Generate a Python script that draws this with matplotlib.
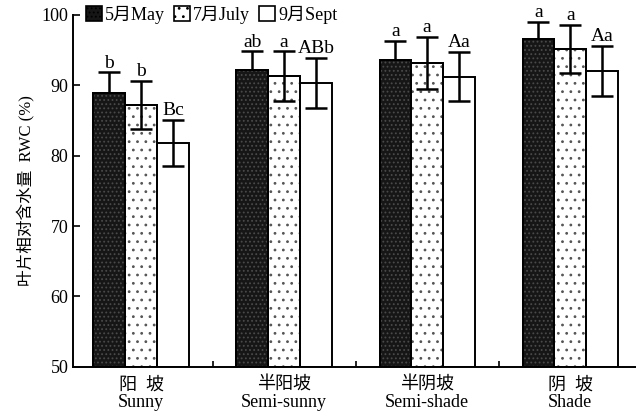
import numpy as np
import matplotlib
matplotlib.use('Agg')
import matplotlib.pyplot as plt
from matplotlib.patches import Patch

plt.rcParams['font.family'] = ['Liberation Serif', 'Noto Sans CJK SC', 'DejaVu Sans']
plt.rcParams['hatch.linewidth'] = 0.8

# data
slopes = ['阳  坡\nSunny', '半阳坡\nSemi-sunny', '半阴坡\nSemi-shade', '阴  坡\nShade']
months = ['5月May', '7月July', '9月Sept']
may = [88.9, 92.1, 93.6, 96.5]
may_err = [2.9, 2.7, 2.7, 2.5]
july = [87.2, 91.3, 93.1, 95.1]
july_err = [3.4, 3.5, 3.7, 3.4]
sept = [81.8, 90.3, 91.2, 92.0]
sept_err = [3.3, 3.6, 3.5, 3.6]
may_sig = ['b', 'ab', 'a', 'a']
july_sig = ['b', 'a', 'a', 'a']
sept_sig = ['Bc', 'ABb', 'Aa', 'Aa']

fig = plt.figure(figsize=(6.36, 4.17), dpi=100)
ax = fig.add_axes([0.115, 0.12, 0.885, 0.845])

x = np.arange(len(slopes))
w = 0.222
# dark May bars hide the lower half of their error bars, as in the print
series = [(may, may_err, may_sig, '#161616', '....', '#4a4a4a', 1.5),
          (july, july_err, july_sig, 'white', '..', '#555555', 3),
          (sept, sept_err, sept_sig, 'white', None, 'black', 3)]

handles = []
for i, (vals, errs, sig, fc, hatch, hc, ez) in enumerate(series):
    pos = x + (i - 1) * w
    ax.bar(pos, np.array(vals) - 50, w, bottom=50, color=fc,
           edgecolor='black', linewidth=1.4, zorder=2)
    if hatch:
        ax.bar(pos, np.array(vals) - 50, w, bottom=50, color='none',
               edgecolor=hc, hatch=hatch, linewidth=0, zorder=2.5)
        ax.bar(pos, np.array(vals) - 50, w, bottom=50, color='none',
               edgecolor='black', linewidth=1.4, zorder=2.6)
    ax.errorbar(pos, vals, yerr=errs, fmt='none', ecolor='black',
                elinewidth=1.8, capsize=8, capthick=1.8, zorder=ez)
    for p, v, e, s in zip(pos, vals, errs, sig):
        ax.text(p, v + e + 0.1, s, ha='center', va='bottom', fontsize=14)
    handles.append(Patch(facecolor=fc, edgecolor='black', hatch=hatch, linewidth=1.2))

ax.set_xlim(-0.475, 3.46)
ax.set_ylim(50, 100)
ax.set_yticks([50, 60, 70, 80, 90, 100])
ax.tick_params(axis='y', direction='in', length=5, width=1.2, labelsize=13)
ax.set_xticks(x)
ax.set_xticklabels(slopes, fontsize=13, linespacing=1.0)
ax.tick_params(axis='x', length=0, pad=7)
ax.set_xticks([0.5, 1.5, 2.5], minor=True)
ax.tick_params(axis='x', which='minor', direction='in', length=4, width=1.2)
ax.spines['top'].set_visible(False)
ax.spines['right'].set_visible(False)
ax.spines['left'].set_linewidth(1.4)
ax.spines['bottom'].set_linewidth(1.4)
ax.set_ylabel('叶片相对含水量  RWC (%)', fontsize=12, labelpad=4)

ax.legend(handles, months, loc='upper left', ncol=3, frameon=False,
          fontsize=13, handlelength=0.9, handleheight=0.9, handletextpad=0.15,
          columnspacing=0.5, borderaxespad=0.0, bbox_to_anchor=(0.01, 1.045))

fig.savefig('out.png', dpi=100)
